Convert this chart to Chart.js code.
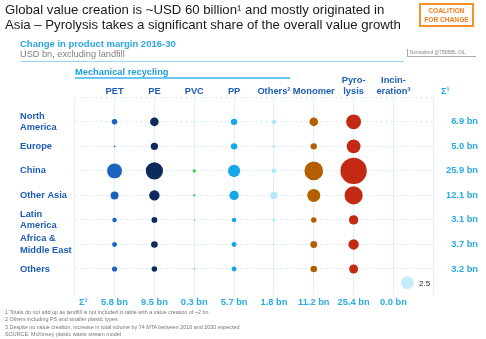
<!DOCTYPE html>
<html lang="en">
<head>
<meta charset="UTF-8">
<script src="https://cdn.jsdelivr.net/npm/chart.js@4.4.0/dist/chart.umd.min.js"></script>
<title>Value creation by region</title>
<style>
  body { margin: 0; background: #fff; font-family: "Liberation Sans", Arial, sans-serif; }
  .page { position: relative; width: 486px; height: 339px; overflow: hidden; }
  #bubbles { position: absolute; left: 0; top: 0; }
  .abs { position: absolute; white-space: nowrap; }
  .title { left: 5px; top: 2px; font-size: 13.2px; line-height: 15px; color: #1a1a1a; }
  .coalition { left: 419px; top: 3px; width: 55px; height: 24px; box-sizing: border-box;
    border: 2px solid #f39229; color: #f07d1a; font-weight: bold; font-size: 6.6px;
    line-height: 9px; text-align: center; padding-top: 1px; }
  .sub1 { left: 20px; top: 38px; font-weight: bold; font-size: 9.5px; color: #2aa7e1; }
  .sub2 { left: 20px; top: 49px; font-size: 9.2px; color: #808080; }
  .rule1 { left: 20px; top: 61px; width: 384px; height: 1px; background: #9ad8f4; }
  .norm { left: 407px; top: 49px; width: 66px; font-size: 4.6px; line-height: 7px; color: #888;
    border-left: 1px solid #aaa; border-bottom: 1px solid #aaa; padding-left: 2px; }
  .mech { left: 75px; top: 67px; font-weight: bold; font-size: 9.3px; color: #1e9fe0; }
  .rule2 { left: 75px; top: 77px; width: 215px; height: 2px; background: #69c9f2; }
  .sigma { font-weight: bold; font-size: 9.3px; color: #29abe2; }
  .legendlbl { left: 419px; top: 279px; font-size: 8px; color: #222; }
  .notes { left: 5px; top: 309px; font-size: 5.4px; line-height: 7.3px; color: #777; }
</style>
</head>
<body>
<div class="page">
  <canvas id="bubbles" width="486" height="339"></canvas>
  <div class="abs title">Global value creation is ~USD 60 billion¹ and mostly originated in<br>Asia – Pyrolysis takes a significant share of the overall value growth</div>
  <div class="abs coalition">COALITION<br>FOR CHANGE</div>
  <div class="abs sub1">Change in product margin 2016-30</div>
  <div class="abs sub2">USD bn, excluding landfill</div>
  <div class="abs rule1"></div>
  <div class="abs norm">Normalized @75$/BBL OIL</div>
  <div class="abs mech">Mechanical recycling</div>
  <div class="abs rule2"></div>
  <div class="abs sigma" style="left:441px; top:86px;">Σ¹</div>
  <div class="abs sigma" style="left:79px; top:297px;">Σ¹</div>
  <div class="abs legendlbl">2.5</div>
  <div class="abs notes">1 Totals do not add up as landfill is not included in table with a value creation of ~2 bn<br>2 Others including PS and smaller plastic types<br>3 Despite no value creation, increase in total volume by 74 MTA between 2016 and 2030 expected<br>SOURCE: McKinsey plastic waste stream model</div>
</div>

<script>
// rows and columns of the grid
const regions = [['North', 'America'], 'Europe', 'China', 'Other Asia', ['Latin', 'America'], ['Africa &', 'Middle East'], 'Others'];
const processes = ['PET', 'PE', 'PVC', 'PP', 'Others²', 'Monomer', ['Pyro-', 'lysis'], ['Incin-', 'eration³']];

// USD bn per region (same order as regions)
const pet        = [0.45, 0.05, 3.3, 0.95, 0.3, 0.35, 0.4];
const pe         = [1.1, 0.8, 4.4, 1.6, 0.5, 0.65, 0.45];
const pvc        = [0.01, 0, 0.15, 0.08, 0.03, 0, 0.03];
const pp         = [0.6, 0.6, 2.2, 1.3, 0.3, 0.35, 0.35];
const othersPl   = [0.35, 0.1, 0.35, 0.75, 0.15, 0.05, 0.05];
const monomer    = [1.1, 0.6, 5.2, 2.5, 0.45, 0.7, 0.65];
const pyrolysis  = [3.3, 2.85, 10.3, 4.9, 1.3, 1.6, 1.2];
const incinerate = [0, 0, 0, 0, 0, 0, 0];

const regionTotals = ['6.9 bn', '5.0 bn', '25.9 bn', '12.1 bn', '3.1 bn', '3.7 bn', '3.2 bn'];
const processTotals = ['5.8 bn', '9.5 bn', '0.3 bn', '5.7 bn', '1.8 bn', '11.2 bn', '25.4 bn', '0.0 bn'];
const legendValue = 2.5;

const series = [pet, pe, pvc, pp, othersPl, monomer, pyrolysis, incinerate];
const colors = ['#1a64c0', '#0c2a5c', '#43c143', '#16a6ea', '#b8e6fb', '#b35f00', '#c22a14', '#c7ebfc'];

const K = 4.1; // px radius per sqrt(bn)
const FONT = '"Liberation Sans", Arial, sans-serif';
const labelBlue = '#1d5db5';
const totalBlue = '#29abe2';
const gridBlue = '#dcf1fb';

const datasets = series.map((vals, c) => ({
  data: vals.map((v, i) => ({ x: c, y: i, r: Math.sqrt(v) * K })),
  backgroundColor: colors[c],
  borderWidth: 0
}));
// size legend bubble, bottom right
datasets.push({
  data: [{ x: 7.35, y: 6.56, r: Math.sqrt(legendValue) * K }],
  backgroundColor: '#c7ebfc',
  borderWidth: 0
});

new Chart(document.getElementById('bubbles'), {
  type: 'bubble',
  data: { datasets: datasets },
  options: {
    responsive: false,
    animation: false,
    events: [],
    layout: { padding: { left: 20, right: 8, top: 0, bottom: 0 } },
    plugins: { legend: { display: false }, tooltip: { enabled: false } },
    scales: {
      x: {
        type: 'linear', position: 'bottom', min: -1, max: 8,
        afterFit: s => { s.height = 45.5; },
        ticks: {
          stepSize: 1, autoSkip: false, maxRotation: 0, padding: 3.6,
          color: totalBlue, font: { family: FONT, size: 9.3, weight: 'bold' },
          callback: v => processTotals[v] || ''
        },
        grid: { color: gridBlue, drawTicks: false },
        border: { display: false }
      },
      xTop: {
        type: 'linear', position: 'top', axis: 'x', min: -1, max: 8,
        afterFit: s => { s.height = 97.3; },
        ticks: {
          stepSize: 1, autoSkip: false, maxRotation: 0, padding: 0,
          color: labelBlue, font: { family: FONT, size: 9.3, weight: 'bold', lineHeight: 1.23 },
          callback: v => processes[v] || ''
        },
        grid: { display: false, drawTicks: false },
        border: { display: false }
      },
      y: {
        type: 'linear', position: 'left', min: -1, max: 7, reverse: true,
        afterFit: s => { s.width = 54.7; },
        ticks: {
          stepSize: 1, autoSkip: false, crossAlign: 'far', padding: 0,
          color: labelBlue, font: { family: FONT, size: 9.3, weight: 'bold', lineHeight: 1.23 },
          callback: v => regions[v] || ''
        },
        grid: { color: c => c.tick && c.tick.value === 7 ? 'rgba(0,0,0,0)' : gridBlue, drawTicks: false },
        border: { display: false, dash: [3, 2] }
      },
      yRight: {
        type: 'linear', position: 'right', axis: 'y', min: -1, max: 7, reverse: true,
        afterFit: s => { s.width = 44.7; },
        ticks: {
          stepSize: 1, autoSkip: false, crossAlign: 'far', padding: 0,
          color: totalBlue, font: { family: FONT, size: 9.3, weight: 'bold' },
          callback: v => regionTotals[v] || ''
        },
        grid: { display: false, drawTicks: false },
        border: { display: false }
      }
    }
  }
});
</script>
</body>
</html>
